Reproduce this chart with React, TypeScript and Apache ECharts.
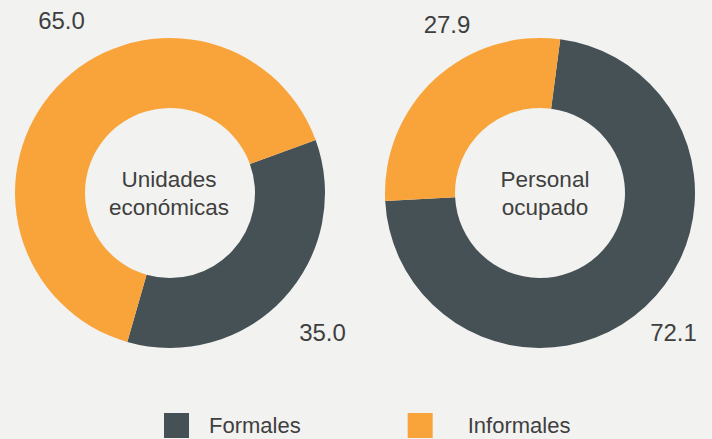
import React, { useEffect, useRef } from "react";
import * as echarts from "echarts";

const categories = ["Formales", "Informales"];
const unidadesValues = [35.0, 65.0];
const personalValues = [72.1, 27.9];
const chartTitles = ["Unidades\neconómicas", "Personal\nocupado"];
const colors = ["#465156", "#F9A43B"];

const FONT = "'Liberation Sans', Arial, Helvetica, sans-serif";
const TEXT_COLOR = "#3f3f3f";

export default function App() {
  const ref = useRef<HTMLDivElement>(null);

  useEffect(() => {
    document.body.style.margin = "0";
    if (!ref.current) return;
    const chart = echarts.init(ref.current, undefined, { renderer: "svg" });

    const makePie = (values: number[], center: [number, number], startAngle: number) => ({
      type: "pie",
      center,
      radius: [85, 155],
      startAngle,
      clockwise: true,
      silent: true,
      label: { show: false },
      labelLine: { show: false },
      emphasis: { disabled: true },
      itemStyle: { borderWidth: 0 },
      data: categories.map((name, i) => ({
        name,
        value: values[i],
        itemStyle: { color: colors[i] },
      })),
    });

    const numText = (value: number, x: number, y: number) => ({
      type: "text",
      x,
      y,
      style: {
        text: value.toFixed(1),
        fontSize: 24,
        fontFamily: FONT,
        fill: TEXT_COLOR,
        align: "center",
        verticalAlign: "middle",
      },
    });

    const centerText = (text: string, x: number, y: number) => ({
      type: "text",
      x,
      y,
      style: {
        text,
        fontSize: 22.5,
        lineHeight: 28,
        fontFamily: FONT,
        fill: TEXT_COLOR,
        align: "center",
        verticalAlign: "middle",
      },
    });

    const legendPads = [15, 30];

    chart.setOption({
      animation: false,
      backgroundColor: "#F2F2F0",
      legend: {
        left: 164,
        top: 413,
        padding: 0,
        itemWidth: 25,
        itemHeight: 25,
        itemGap: 107,
        icon: "rect",
        selectedMode: false,
        data: categories.map((name, i) => ({
          name,
          textStyle: { padding: [0, 0, 0, legendPads[i]] },
        })),
        textStyle: {
          fontSize: 22,
          lineHeight: 22,
          fontFamily: FONT,
          color: TEXT_COLOR,
        },
      },
      series: [
        makePie(unidadesValues, [170, 193], 20),
        makePie(personalValues, [540, 193], 82.5),
      ],
      graphic: [
        numText(unidadesValues[1], 61.5, 20),
        numText(unidadesValues[0], 322.5, 332),
        numText(personalValues[1], 447, 24),
        numText(personalValues[0], 673.5, 332),
        centerText(chartTitles[0], 169, 193),
        centerText(chartTitles[1], 545, 193),
      ],
    });

    return () => chart.dispose();
  }, []);

  return <div ref={ref} style={{ width: 712, height: 439 }} />;
}
